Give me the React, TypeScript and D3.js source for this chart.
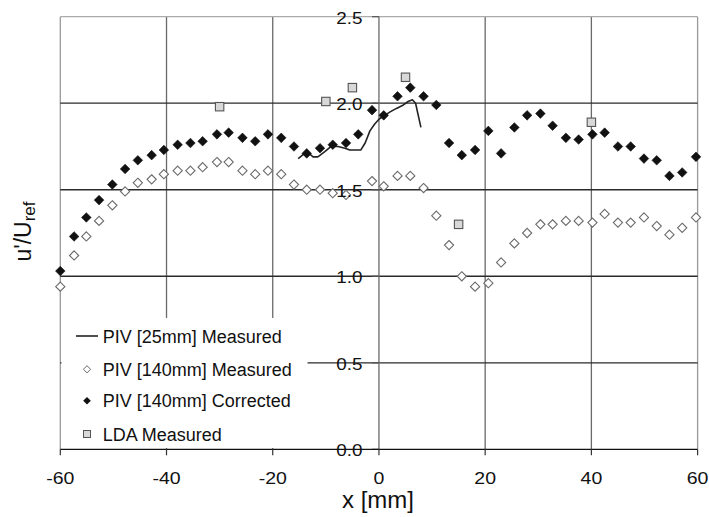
import React from "react";
import * as d3 from "d3";

const W = 709;
const H = 517;

// x positions shared by the two PIV [140mm] series
const pivX = [-60, -57.4, -55.1, -52.7, -50.2, -47.8, -45.4, -42.8, -40.5, -37.9, -35.5, -33.2, -30.5, -28.3, -25.7, -23.3, -20.9, -18.4, -16.0, -13.6, -11.1, -8.7, -6.2, -3.9, -1.3, 0.9, 3.5, 5.9, 8.4, 10.8, 13.2, 15.6, 18.1, 20.6, 23.0, 25.5, 27.9, 30.4, 32.7, 35.2, 37.6, 40.2, 42.5, 45.0, 47.4, 49.9, 52.3, 54.7, 57.1, 59.7];
const pivCorrected = [1.03, 1.23, 1.34, 1.44, 1.53, 1.62, 1.67, 1.70, 1.73, 1.76, 1.77, 1.78, 1.82, 1.83, 1.80, 1.78, 1.82, 1.80, 1.75, 1.71, 1.74, 1.76, 1.77, 1.82, 1.96, 1.93, 2.04, 2.09, 2.04, 1.99, 1.77, 1.70, 1.73, 1.84, 1.71, 1.86, 1.93, 1.94, 1.87, 1.80, 1.79, 1.82, 1.83, 1.75, 1.75, 1.68, 1.67, 1.58, 1.60, 1.69];
const pivMeasured: (number | null)[] = [0.94, 1.12, 1.23, 1.32, 1.41, 1.49, 1.54, 1.56, 1.59, 1.61, 1.61, 1.63, 1.66, 1.66, 1.61, 1.59, 1.61, 1.59, 1.53, 1.50, 1.50, 1.48, 1.47, null, 1.55, 1.52, 1.58, 1.58, 1.51, 1.35, 1.18, 1.00, 0.94, 0.96, 1.08, 1.19, 1.25, 1.30, 1.30, 1.32, 1.32, 1.31, 1.36, 1.31, 1.31, 1.34, 1.29, 1.24, 1.28, 1.34];

// PIV [25mm] measured line
const lineX = [-15.2, -13.6, -12.4, -11.5, -10.2, -9.0, -7.7, -6.4, -5.5, -4.5, -3.4, -2.6, -1.7, -0.8, 0.1, 1.1, 2.1, 3.3, 4.6, 5.5, 6.3, 6.9, 7.4, 7.9];
const lineY = [1.68, 1.72, 1.69, 1.69, 1.72, 1.75, 1.75, 1.74, 1.73, 1.73, 1.73, 1.77, 1.84, 1.88, 1.91, 1.93, 1.95, 1.97, 1.99, 2.01, 2.02, 2.00, 1.93, 1.86];

// LDA measured
const ldaX = [-30, -10, -5, 5, 15, 40];
const ldaY = [1.98, 2.01, 2.09, 2.15, 1.30, 1.89];

const xTicks = [-60, -40, -20, 0, 20, 40, 60];
const yTicks = [0, 0.5, 1.0, 1.5, 2.0, 2.5];

const legendLabels = ["PIV [25mm] Measured", "PIV [140mm] Measured", "PIV [140mm] Corrected", "LDA Measured"];

const FONT = "'Liberation Sans', Arial, Helvetica, sans-serif";

const x = d3.scaleLinear().domain([-60, 60]).range([60.3, 697.6]);
const y = d3.scaleLinear().domain([0, 2.5]).range([449.3, 16.7]);

function diamond(cx: number, cy: number, r: number) {
  return `M${cx},${cy - r}L${cx + r},${cy}L${cx},${cy + r}L${cx - r},${cy}Z`;
}

export default function App() {
  const line = d3
    .line<number>()
    .x((_, i) => x(lineX[i]))
    .y((d) => y(d));

  const x0 = x(0);

  return (
    <svg
      width={W}
      height={H}
      viewBox={`0 0 ${W} ${H}`}
      style={{ position: "absolute", left: 0, top: 0, background: "#fff" }}
    >
      <rect x={0} y={0} width={W} height={H} fill="#fff" />
      {/* vertical gridlines */}
      {xTicks
        .filter((t) => t !== 0)
        .map((t) => (
          <line
            key={"vx" + t}
            x1={x(t)}
            x2={x(t)}
            y1={y(2.5)}
            y2={y(0)}
            stroke={t === -60 || t === 60 ? "#999" : "#6a6a6a"}
            strokeWidth={1.3}
          />
        ))}
      {/* horizontal gridlines */}
      {yTicks
        .filter((t) => t !== 0)
        .map((t) => (
          <line
            key={"hy" + t}
            x1={x(-60)}
            x2={x(60)}
            y1={y(t)}
            y2={y(t)}
            stroke={t === 2.5 ? "#aaa" : "#2a2a2a"}
            strokeWidth={1.3}
          />
        ))}
      {/* legend background */}
      <rect x={61.5} y={318} width={246} height={130} fill="#fff" />
      {/* y axis (at x = 0) */}
      <line x1={x0} x2={x0} y1={y(2.5)} y2={y(0)} stroke="#6a6a6a" strokeWidth={1.3} />
      {yTicks.map((t) => (
        <line key={"yt" + t} x1={x0 - 7} x2={x0} y1={y(t)} y2={y(t)} stroke="#555" strokeWidth={1.2} />
      ))}
      {/* x axis */}
      <line x1={x(-60)} x2={x(60)} y1={y(0)} y2={y(0)} stroke="#111" strokeWidth={1.3} />
      {xTicks.map((t) => (
        <line key={"xt" + t} x1={x(t)} x2={x(t)} y1={y(0)} y2={y(0) + 6} stroke="#333" strokeWidth={1.2} />
      ))}

      {/* PIV [25mm] line */}
      <path d={line(lineY) || ""} fill="none" stroke="#222" strokeWidth={1.6} strokeLinejoin="round" />

      {/* PIV [140mm] measured: open diamonds */}
      {pivMeasured.map((v, i) =>
        v === null ? null : (
          <path key={"m" + i} d={diamond(x(pivX[i]), y(v), 4.6)} fill="#fff" stroke="#6a6a6a" strokeWidth={1.1} />
        )
      )}
      {/* PIV [140mm] corrected: filled diamonds */}
      {pivCorrected.map((v, i) => (
        <path key={"c" + i} d={diamond(x(pivX[i]), y(v), 4.8)} fill="#111" stroke="#111" strokeWidth={0.6} />
      ))}
      {/* LDA squares */}
      {ldaY.map((v, i) => (
        <rect
          key={"l" + i}
          x={x(ldaX[i]) - 4.2}
          y={y(v) - 4.2}
          width={8.4}
          height={8.4}
          fill="#d8d8d8"
          stroke="#555"
          strokeWidth={1.1}
        />
      ))}

      {/* y tick labels */}
      {yTicks.map((t) => (
        <text
          key={"yl" + t}
          transform={`translate(${x0 - 16.5},${y(t) + 7}) scale(1.18,1)`}
          textAnchor="end"
          fontFamily={FONT}
          fontSize={16}
          fill="#111"
        >
          {d3.format(".1f")(t)}
        </text>
      ))}
      {/* x tick labels */}
      {xTicks.map((t) => (
        <text
          key={"xl" + t}
          transform={`translate(${x(t)},${484.3}) scale(1.22,1)`}
          textAnchor="middle"
          fontFamily={FONT}
          fontSize={16}
          fill="#111"
        >
          {t}
        </text>
      ))}
      {/* axis titles */}
      <text x={378} y={508.3} textAnchor="middle" fontFamily={FONT} fontSize={24} fill="#111">
        x [mm]
      </text>
      <text
        transform={`translate(31,231.5) rotate(-90)`}
        textAnchor="middle"
        fontFamily={FONT}
        fontSize={23}
        fill="#111"
      >
        u'/U
        <tspan fontSize={17} dy={4}>
          ref
        </tspan>
      </text>

      {/* legend */}
      <g fontFamily={FONT} fontSize={18} fill="#111">
        <line x1={76} x2={98} y1={336} y2={336} stroke="#222" strokeWidth={1.6} />
        <path d={diamond(87, 369.3, 3.6)} fill="#fff" stroke="#6a6a6a" strokeWidth={1} />
        <path d={diamond(87, 400.7, 3.8)} fill="#111" />
        <rect x={83.5} y={430.5} width={7} height={7} fill="#d8d8d8" stroke="#555" strokeWidth={1} />
        {legendLabels.map((lab, i) => (
          <text key={lab} x={102.7} y={[336, 369.3, 400.7, 434][i] + 6.5}>
            {lab}
          </text>
        ))}
      </g>
    </svg>
  );
}
